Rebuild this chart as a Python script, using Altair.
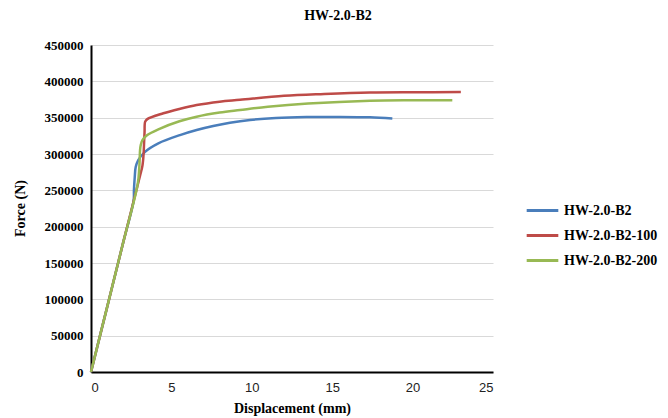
import altair as alt
import pandas as pd

series_names = ["HW-2.0-B2", "HW-2.0-B2-100", "HW-2.0-B2-200"]
colors = ["#4A7EBB", "#BE4B48", "#98B954"]

disp_b = [0, 1.0, 2.0, 2.65, 2.67, 2.72, 2.78, 2.94, 3.36, 4.19, 5.53, 6.57,
          7.6, 8.64, 9.89, 11.5, 13.4, 15.5, 17.35, 18.74]
force_b = [0, 89000, 178000, 236000, 250000, 268000, 282000, 291700, 303000, 314700, 326000,
           333000, 338500, 343000, 346800, 349500, 350800, 351000, 350500, 349000]

disp_r = [0, 1.0, 2.0, 3.05, 3.2, 3.27, 3.3, 3.33, 3.37, 3.5, 4.5, 5.5, 6.57, 8.0, 9.27,
          12.0, 14.5, 17.35, 20.0, 23.0]
force_r = [0, 89000, 178000, 270000, 284000, 300000, 315000, 330000, 344500, 348000, 356000,
           362000, 367400, 372000, 374500, 380000, 382500, 384500, 385000, 385200]

disp_g = [0, 1.0, 2.0, 2.9, 3.0, 3.03, 3.05, 3.1, 3.2, 3.5, 4.19, 5.5, 6.57, 8.0, 9.27,
          11.0, 13.5, 17.35, 20.0, 22.47]
force_g = [0, 89000, 178000, 258000, 280000, 295000, 305000, 313000, 319000, 326000, 334000,
           345000, 351300, 357000, 360500, 365000, 369500, 373400, 374000, 374000]

x_ticks = [0, 5, 10, 15, 20, 25]
y_ticks = [0, 50000, 100000, 150000, 200000, 250000, 300000, 350000, 400000, 450000]

rows = []
for name, xs, ys in zip(series_names, [disp_b, disp_r, disp_g], [force_b, force_r, force_g]):
    for i, (x, y) in enumerate(zip(xs, ys)):
        rows.append({"series": name, "disp": x, "force": y, "idx": i})
df = pd.DataFrame(rows)

serif = "Liberation Serif, Times New Roman, serif"
sans = "Liberation Sans, Arial, sans-serif"

chart = alt.Chart(df).mark_line(strokeWidth=2.5, interpolate="catmull-rom").encode(
    x=alt.X("disp:Q",
            scale=alt.Scale(domain=[0, 25], nice=False),
            axis=alt.Axis(values=x_ticks, title="Displacement (mm)", grid=False, ticks=False,
                          domainColor="black", domainWidth=2, labelFont=sans, labelFontSize=13,
                          labelColor="#222", labelPadding=9, titleFont=serif, titleFontSize=14,
                          titleFontWeight="bold", titleColor="black", titleY=36,
                          titleBaseline="middle")),
    y=alt.Y("force:Q",
            scale=alt.Scale(domain=[0, 450000], nice=False),
            axis=alt.Axis(values=y_ticks, format="d", title="Force (N)", grid=True,
                          gridColor="#d9d9d9", gridWidth=1, ticks=False, domainColor="black",
                          domainWidth=2, labelFont=serif, labelFontSize=13, labelFontWeight="bold",
                          labelColor="black", labelPadding=8, titleFont=serif, titleFontSize=14,
                          titleFontWeight="bold", titleColor="black", titleX=-71,
                          titleY=163, titleBaseline="middle", titleAngle=-90)),
    color=alt.Color("series:N",
                    scale=alt.Scale(domain=series_names, range=colors),
                    legend=alt.Legend(title=None, orient="none", legendX=434, legendY=148,
                                      symbolType="stroke", symbolSize=1000, symbolStrokeWidth=3,
                                      labelFont=serif, labelFontSize=14, labelFontWeight="bold",
                                      labelColor="black", labelLimit=0, labelOffset=4,
                                      rowPadding=-3)),
    order="idx:Q",
).properties(
    width=402, height=327,
    autosize="none",
    padding={"left": 83, "top": 37, "right": 167, "bottom": 46},
    title=alt.TitleParams("HW-2.0-B2", font=serif, fontSize=14, fontWeight="bold",
                          color="black", anchor="middle", dx=46, offset=16),
).configure_view(stroke=None)

chart.save("out.html", embed_options={"renderer": "svg", "actions": False})
